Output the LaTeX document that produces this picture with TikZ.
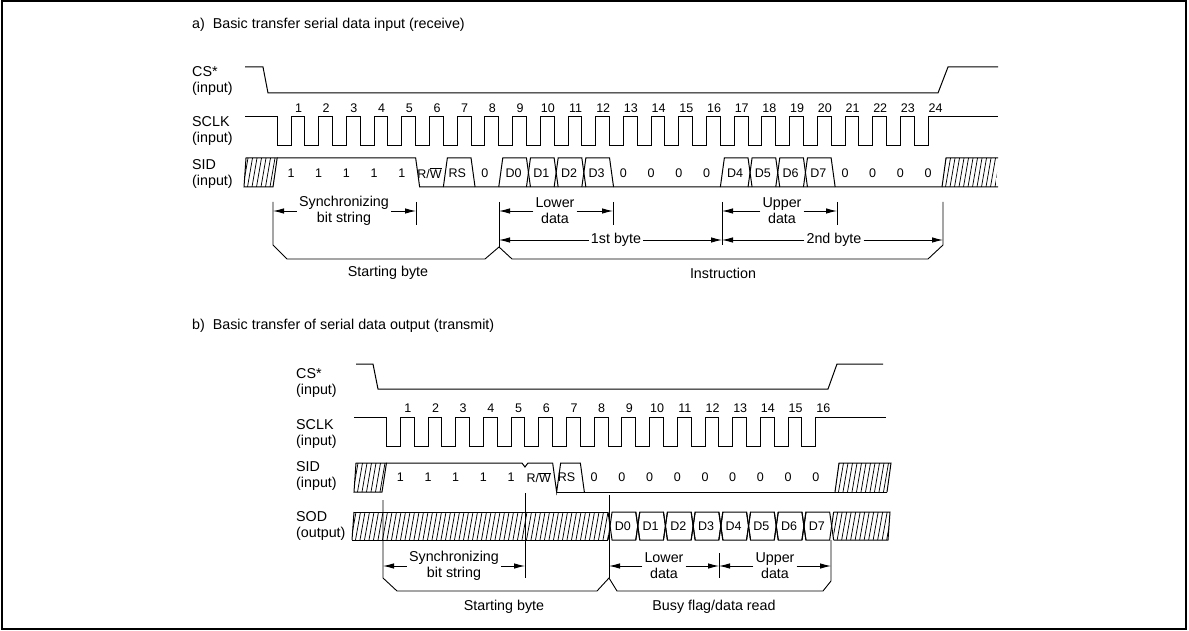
\documentclass[tikz,border=0pt]{standalone}
\usepackage{fontspec}
\setmainfont{Liberation Sans}
\usetikzlibrary{arrows.meta}
\newcommand\hatchpoly[8]{%
  \begin{scope}
    \clip (#1,#2)--(#3,#4)--(#5,#6)--(#7,#8)--cycle;
    \pgfmathsetmacro\hsA{#7-10}\pgfmathsetmacro\hsB{\hsA+4.5}\pgfmathsetmacro\hsC{#3+6}
    \foreach \hx in {\hsA,\hsB,...,\hsC} \draw[hatchln] (\hx,#6)--(\hx+5,#2);
  \end{scope}}
\begin{document}
\begin{tikzpicture}[x=1pt,y=-1pt,
  sig/.style={line width=1pt, line join=miter},
  ann/.style={line width=0.9pt},
  arr/.style={line width=0.9pt, -{Latex[length=11pt,width=5.5pt]}},
  lbl/.style={font=\fontsize{14.3}{16}\selectfont, align=left, anchor=west, inner sep=0pt},
  txt/.style={font=\fontsize{14.3}{16}\selectfont, align=center, inner sep=2pt},
  num/.style={font=\fontsize{12.5}{14}\selectfont, inner sep=0pt},
  hatchln/.style={line width=0.75pt}]
\useasboundingbox (0,0) rectangle (1189,631);
\draw[line width=2pt] (1.5,1.5) rectangle (1186,628.5);

% ---------------- titles ----------------
\node[lbl] (ta) at (192,25) {a)\ \ Basic transfer serial data input (receive)};
\node[lbl] (tb) at (192,326) {b)\ \ Basic transfer of serial data output (transmit)};

% ================= PART A =================
\node[lbl] (lcsa) at (192,81) {CS*\\(input)};
\node[lbl] (lclka) at (192,131) {SCLK\\(input)};
\node[lbl] (lsida) at (192,174) {SID\\(input)};

% CS
\draw[sig] (245,67) -- (263,67) -- (268,93) -- (938,93) -- (948,67) -- (998,67);
% SCLK
\draw[sig] (245,117) -- (277.15,117) -- (277.15,146)
  foreach \k in {1,...,23} { -- ({263.3+27.7*\k},146) -- ({263.3+27.7*\k},117) -- ({277.15+27.7*\k},117) -- ({277.15+27.7*\k},146) }
  -- (928.1,146) -- (928.1,117) -- (998,117);
\foreach \k in {1,...,24} \node[num] (ca\k) at ({263.3+27.7*\k+7.5},108) {\k};

% SID
\hatchpoly{246}{158}{277.15}{158}{273}{187}{244}{187}
\draw[sig] (244,187) -- (246,158) -- (277.15,158) -- (273,187) -- cycle;
\draw[sig] (277.15,158) -- (415.65,158) -- (419.65,187) -- (998,187);
\draw[sig] (443.35,187) -- (447.35,158) -- (471.05,158) -- (475.05,187);
\foreach \k in {9,...,12,17,18,19,20}
  \draw[sig] ({277.15+27.7*(\k-1)},187) -- ({281.15+27.7*(\k-1)},158) -- ({277.15+27.7*\k},158) -- ({281.15+27.7*\k},187);
\hatchpoly{946}{158}{998}{158}{996}{187}{942}{187}
\draw[sig] (942,187) -- (946,158) -- (998,158);
\foreach \k in {1,...,5} \node[num] (sa\k) at ({263.3+27.7*\k},173) {1};
\node[num] (sa6) at ({263.3+27.7*6},173) {R/$\overline{\hbox{W}}$};
\node[num] (sa7) at ({263.3+27.7*7},173) {RS};
\foreach \k in {8,13,14,15,16,21,22,23,24} \node[num] (sa\k) at ({263.3+27.7*\k},173) {0};
\foreach \k/\d in {9/0,10/1,11/2,12/3,17/4,18/5,19/6,20/7} \node[num] (sa\k) at ({264.3+27.7*\k},173) {D\d};

% annotations A
\coordinate (xa1) at (273,0); \coordinate (xa2) at (416,0); \coordinate (xa3) at (499,0);
\coordinate (xa4) at (613,0); \coordinate (xa5) at (722,0); \coordinate (xa6) at (837,0);
\coordinate (xa7) at (943,0);
\draw[ann] (273,202) -- (273,245) -- (287,259) -- (485,259) -- (499,247) -- (512,259) -- (928,259) -- (943,245) -- (943,202);
\draw[ann] (499,202) -- (499,247);
\draw[ann] (416,202) -- (416,225);
\draw[ann] (613,202) -- (613,225);
\draw[ann] (722,202) -- (722,245);
\draw[ann] (837,202) -- (837,225);
\node[txt] (synca) at (344,211) {Synchronizing\\bit string};
\node[txt] (lowa) at (555,211) {Lower\\data};
\node[txt] (uppa) at (782,211) {Upper\\data};
\node[txt] (b1a) at (616,240) {1st byte};
\node[txt] (b2a) at (834,240) {2nd byte};
\draw[arr] (synca.west) -- (synca.west -| xa1);
\draw[arr] (synca.east) -- (synca.east -| xa2);
\draw[arr] (lowa.west) -- (lowa.west -| xa3);
\draw[arr] (lowa.east) -- (lowa.east -| xa4);
\draw[arr] (uppa.west) -- (uppa.west -| xa5);
\draw[arr] (uppa.east) -- (uppa.east -| xa6);
\draw[arr] (b1a.west) -- (b1a.west -| xa3);
\draw[arr] (b1a.east) -- (b1a.east -| xa5);
\draw[arr] (b2a.west) -- (b2a.west -| xa5);
\draw[arr] (b2a.east) -- (b2a.east -| xa7);
\node[txt] (sba) at (388,273) {Starting byte};
\node[txt] (ins) at (723,273) {Instruction};

% ================= PART B =================
\node[lbl] (lcsb) at (296,382.5) {CS*\\(input)};
\node[lbl] (lclkb) at (296,434) {SCLK\\(input)};
\node[lbl] (lsidb) at (296,476) {SID\\(input)};
\node[lbl] (lsodb) at (296,525.5) {SOD\\(output)};

% CS
\draw[sig] (356,364) -- (373,364) -- (378,389) -- (828,389) -- (837,364) -- (883,364);
% SCLK
\draw[sig] (354,417) -- (386.45,417) -- (386.45,446)
  foreach \k in {1,...,15} { -- ({372.6+27.7*\k},446) -- ({372.6+27.7*\k},417) -- ({386.45+27.7*\k},417) -- ({386.45+27.7*\k},446) }
  -- (815.8,446) -- (815.8,417) -- (886,417);
\foreach \k in {1,...,16} \node[num] (cb\k) at ({372.6+27.7*\k+7.5},408) {\k};

% SID
\hatchpoly{356}{463}{386.45}{463}{382}{492}{354}{492}
\draw[sig] (354,492) -- (356,463) -- (386.45,463) -- (382,492) -- cycle;
\draw[sig] (386.45,463) -- (521.95,463) -- (524.95,467) -- (527.95,463) -- (552.65,463) -- (556.65,492) -- (560.65,463) -- (580.35,463) -- (584.35,492);
\draw[sig] (556.65,492) -- (887,492);
\hatchpoly{839}{463}{891}{463}{887}{492}{835}{492}
\draw[sig] (835,492) -- (839,463) -- (891,463) -- (887,492);
\foreach \k in {1,...,5} \node[num] (sb\k) at ({372.6+27.7*\k},477.5) {1};
\node[num] (sb6) at ({372.6+27.7*6},477.5) {R/$\overline{\hbox{W}}$};
\node[num] (sb7) at ({372.6+27.7*7},477.5) {RS};
\foreach \k in {8,...,16} \node[num] (sb\k) at ({372.6+27.7*\k},477.5) {0};

% SOD
\hatchpoly{354}{512}{608.05}{512}{608.05}{540}{352}{540}
\draw[sig] (354,512) -- (608.05,512);
\draw[sig] (352,540) -- (608.05,540);
\draw[sig] (352,540) -- (354,512);
\foreach \k in {9,...,16} {
  \draw[sig] ({386.45+27.7*(\k-1)},540) -- ({390.45+27.7*(\k-1)},512) -- ({386.45+27.7*\k},512) -- ({390.45+27.7*\k},540);
  \draw[sig] ({386.45+27.7*(\k-1)},512) -- ({390.45+27.7*(\k-1)},540) -- ({386.45+27.7*\k},540) -- ({390.45+27.7*\k},512);
}
\hatchpoly{833.65}{512}{890}{512}{888}{540}{833.65}{540}
\draw[sig] (833.65,512) -- (890,512) -- (888,540) -- (833.65,540);
\foreach \k/\d in {9/0,10/1,11/2,12/3,13/4,14/5,15/6,16/7} \node[num] (sd\k) at ({373.6+27.7*\k},526) {D\d};

% annotations B
\coordinate (xb1) at (383,0); \coordinate (xb2) at (525,0); \coordinate (xb3) at (609,0);
\coordinate (xb4) at (719,0); \coordinate (xb5) at (831,0);
\draw[ann] (383,500) -- (383,578) -- (397,591) -- (597,591) -- (609,578) -- (617,591) -- (823,591) -- (831,581) -- (831,540);
\draw[ann] (525,493) -- (525,578);
\draw[ann] (609,495) -- (609,578);
\draw[ann] (719,553) -- (719,578);
\node[txt] (syncb) at (454,566) {Synchronizing\\bit string};
\node[txt] (lowb) at (664,566) {Lower\\data};
\node[txt] (uppb) at (775,566) {Upper\\data};
\draw[arr] (syncb.west) -- (syncb.west -| xb1);
\draw[arr] (syncb.east) -- (syncb.east -| xb2);
\draw[arr] (lowb.west) -- (lowb.west -| xb3);
\draw[arr] (lowb.east) -- (lowb.east -| xb4);
\draw[arr] (uppb.west) -- (uppb.west -| xb4);
\draw[arr] (uppb.east) -- (uppb.east -| xb5);
\node[txt] (sbb) at (504,607) {Starting byte};
\node[txt] (busy) at (714,607) {Busy flag/data read};
\end{tikzpicture}
\end{document}
